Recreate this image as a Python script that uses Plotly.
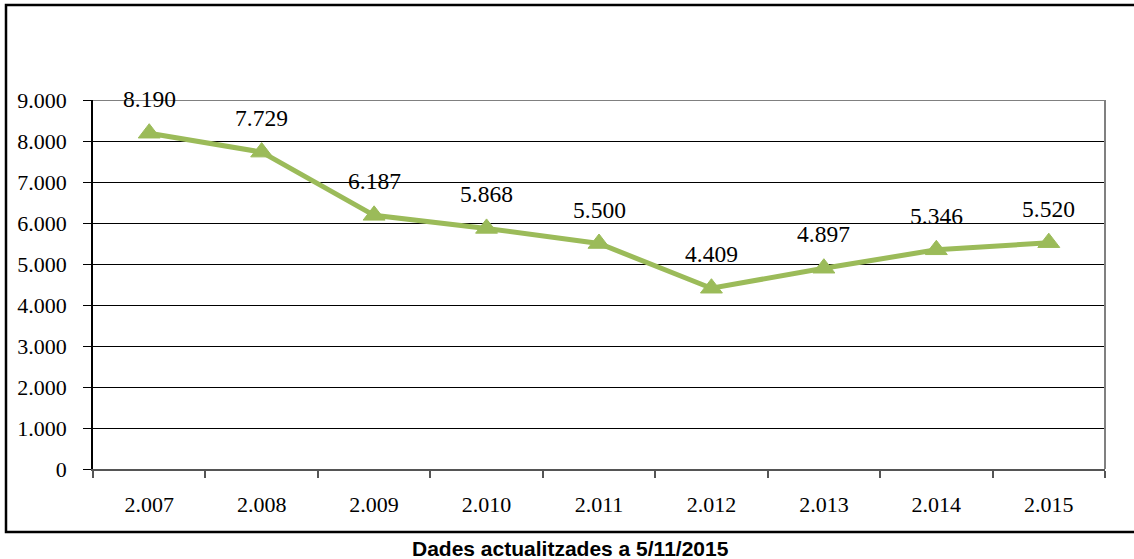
import plotly.graph_objects as go

years = ["2.007", "2.008", "2.009", "2.010", "2.011", "2.012", "2.013", "2.014", "2.015"]
values = [8190, 7729, 6187, 5868, 5500, 4409, 4897, 5346, 5520]
labels = ["8.190", "7.729", "6.187", "5.868", "5.500", "4.409", "4.897", "5.346", "5.520"]
y_ticks = [0, 1000, 2000, 3000, 4000, 5000, 6000, 7000, 8000, 9000]
y_tick_text = ["0", "1.000", "2.000", "3.000", "4.000", "5.000", "6.000", "7.000", "8.000", "9.000"]
caption = "Dades actualitzades a 5/11/2015"

green = "#9BBB59"
W, H = 1134, 559
L, R, T, B = 93, 1105, 100, 469

def px(x):
    return (x - L) / (R - L)

def py(y):
    return (B - y) / (B - T)

fig = go.Figure()
fig.add_trace(go.Scatter(
    x=years, y=values, mode="lines+markers",
    line=dict(color=green, width=5),
    marker=dict(symbol="triangle-up", size=19, color=green, line=dict(color=green, width=1)),
    hoverinfo="skip", showlegend=False,
))

for i, (yv, t) in enumerate(zip(values, labels)):
    fig.add_annotation(x=i, y=yv, text=t, showarrow=False, yshift=34,
                       font=dict(family="Liberation Serif", size=23.5, color="#000"))

fig.add_annotation(xref="paper", yref="paper", x=px(570), y=py(548), yanchor="middle", xanchor="center",
                   text="<b>" + caption + "</b>",
                   showarrow=False, font=dict(family="Liberation Sans", size=21, color="#000"))

# outer border
fig.add_shape(type="rect", xref="paper", yref="paper", x0=px(6), x1=px(1145), y0=py(532), y1=py(5),
              line=dict(color="#000", width=2.5), layer="below")
# right border and top line of plot area (gray)
fig.add_shape(type="line", xref="paper", yref="paper", x0=1, x1=1, y0=0, y1=1,
              line=dict(color="#808080", width=2))
fig.add_shape(type="line", xref="paper", yref="y", x0=0, x1=1, y0=9000, y1=9000,
              line=dict(color="#808080", width=2), layer="below")

fig.update_layout(
    width=W, height=H,
    margin=dict(l=L, r=W - R, t=T, b=H - B),
    paper_bgcolor="white", plot_bgcolor="white",
    separators=",.",
    font=dict(family="Liberation Serif", size=22, color="#000"),
    xaxis=dict(type="category", tickson="boundaries", ticks="outside", ticklen=7, tickcolor="#555",
               tickwidth=1.5, showline=True, linecolor="#555", linewidth=2, showgrid=False,
               ticklabelstandoff=15, range=[-0.5, 8.5], fixedrange=True),
    yaxis=dict(range=[0, 9000], tickvals=y_ticks, ticktext=y_tick_text, ticks="outside", ticklen=8,
               tickcolor="#000", showline=True, linecolor="#000", linewidth=1.5,
               showgrid=True, gridcolor="#000", gridwidth=1, zeroline=False,
               ticklabelstandoff=12, fixedrange=True),
)

fig.write_html("out.html", config={"displayModeBar": False},
               post_script="document.body.style.margin='0';")
